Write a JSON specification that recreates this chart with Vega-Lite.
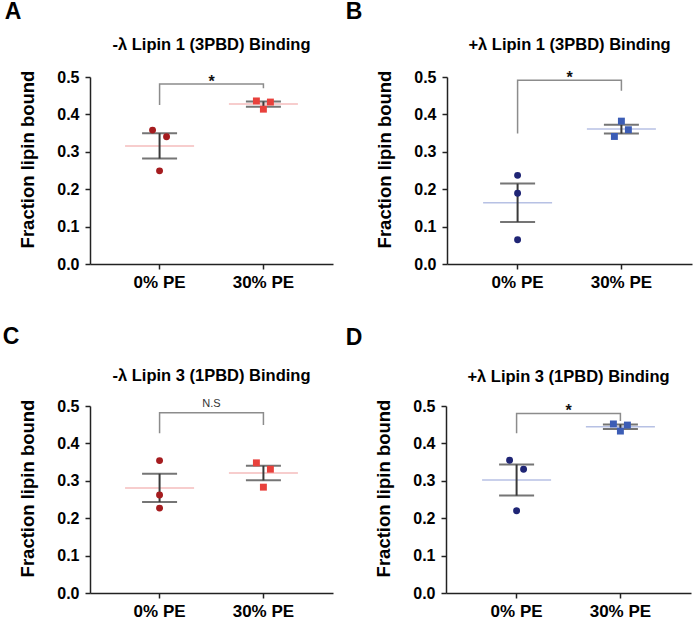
{
  "$schema": "https://vega.github.io/schema/vega-lite/v6.json",
  "padding": {"left": 2, "top": 0, "right": 2, "bottom": 2},
  "background": "white",
  "config": {
    "font": "Liberation Sans",
    "view": {"stroke": null},
    "axis": {"grid": false, "domainColor": "#222222", "domainWidth": 1.5, "tickColor": "#222222", "tickWidth": 1.5, "tickSize": 5, "labelColor": "#000000", "labelFont": "Liberation Sans", "labelFontWeight": "bold", "titleFont": "Liberation Sans", "titleFontWeight": "bold", "titleColor": "#000000"},
    "axisY": {"labelFontSize": 16, "titleFontSize": 18.5, "titlePadding": 19, "labelPadding": 6, "titleY": 82},
    "axisX": {"labelFontSize": 17, "labelAngle": 0, "labelPadding": 5},
    "title": {"font": "Liberation Sans", "color": "#000000"}
  },
  "datasets": {
    "points": [
      {"panel": "A", "group": "0% PE", "value": 0.358, "spread": -1},
      {"panel": "A", "group": "0% PE", "value": 0.340, "spread": 1},
      {"panel": "A", "group": "0% PE", "value": 0.249, "spread": 0},
      {"panel": "A", "group": "30% PE", "value": 0.436, "spread": -1},
      {"panel": "A", "group": "30% PE", "value": 0.433, "spread": 1},
      {"panel": "A", "group": "30% PE", "value": 0.414, "spread": 0},
      {"panel": "B", "group": "0% PE", "value": 0.237, "spread": 0},
      {"panel": "B", "group": "0% PE", "value": 0.189, "spread": 0},
      {"panel": "B", "group": "0% PE", "value": 0.065, "spread": 0},
      {"panel": "B", "group": "30% PE", "value": 0.382, "spread": 0},
      {"panel": "B", "group": "30% PE", "value": 0.359, "spread": 1},
      {"panel": "B", "group": "30% PE", "value": 0.341, "spread": -1},
      {"panel": "C", "group": "0% PE", "value": 0.354, "spread": 0},
      {"panel": "C", "group": "0% PE", "value": 0.262, "spread": 0},
      {"panel": "C", "group": "0% PE", "value": 0.227, "spread": 0},
      {"panel": "C", "group": "30% PE", "value": 0.348, "spread": -1},
      {"panel": "C", "group": "30% PE", "value": 0.331, "spread": 1},
      {"panel": "C", "group": "30% PE", "value": 0.283, "spread": 0},
      {"panel": "D", "group": "0% PE", "value": 0.355, "spread": -1},
      {"panel": "D", "group": "0% PE", "value": 0.331, "spread": 1},
      {"panel": "D", "group": "0% PE", "value": 0.220, "spread": 0},
      {"panel": "D", "group": "30% PE", "value": 0.452, "spread": -1},
      {"panel": "D", "group": "30% PE", "value": 0.449, "spread": 1},
      {"panel": "D", "group": "30% PE", "value": 0.433, "spread": 0}
    ],
    "brackets": [
      {"panel": "A", "group": "0% PE", "value": 0.425, "step": 1},
      {"panel": "A", "group": "0% PE", "value": 0.481, "step": 2},
      {"panel": "A", "group": "30% PE", "value": 0.481, "step": 3},
      {"panel": "A", "group": "30% PE", "value": 0.470, "step": 4},
      {"panel": "B", "group": "0% PE", "value": 0.349, "step": 1},
      {"panel": "B", "group": "0% PE", "value": 0.491, "step": 2},
      {"panel": "B", "group": "30% PE", "value": 0.491, "step": 3},
      {"panel": "B", "group": "30% PE", "value": 0.463, "step": 4},
      {"panel": "C", "group": "0% PE", "value": 0.427, "step": 1},
      {"panel": "C", "group": "0% PE", "value": 0.482, "step": 2},
      {"panel": "C", "group": "30% PE", "value": 0.482, "step": 3},
      {"panel": "C", "group": "30% PE", "value": 0.449, "step": 4},
      {"panel": "D", "group": "0% PE", "value": 0.427, "step": 1},
      {"panel": "D", "group": "0% PE", "value": 0.480, "step": 2},
      {"panel": "D", "group": "30% PE", "value": 0.480, "step": 3},
      {"panel": "D", "group": "30% PE", "value": 0.460, "step": 4}
    ],
    "labels": [
      {"panel": "A", "group": "0% PE", "value": 0.481, "label": "*"},
      {"panel": "B", "group": "0% PE", "value": 0.491, "label": "*"},
      {"panel": "C", "group": "0% PE", "value": 0.482, "label": "N.S"},
      {"panel": "D", "group": "0% PE", "value": 0.480, "label": "*"}
    ]
  },
  "spacing": 36,
  "vconcat": [
    {
      "spacing": 12,
      "hconcat": [
        {
          "title": {"text": "A", "anchor": "start", "fontSize": 23, "fontWeight": "bold", "dx": -14, "offset": -5, "baseline": "alphabetic"},
          "vconcat": [{
            "title": {"text": "-λ Lipin 1 (3PBD) Binding", "fontSize": 16.5, "fontWeight": "bold", "offset": 3, "baseline": "alphabetic", "anchor": "middle"},
            "width": 243, "height": 187,
            "encoding": {
              "x": {"field": "group", "type": "nominal", "title": null, "scale": {"type": "band", "domain": ["0% PE", "30% PE"], "paddingInner": 0, "paddingOuter": 0.17}},
              "y": {"field": "value", "type": "quantitative", "title": "Fraction lipin bound", "scale": {"domain": [0, 0.5]}, "axis": {"format": ".1f", "values": [0, 0.1, 0.2, 0.3, 0.4, 0.5]}}
            },
            "layer": [
              {"data": {"name": "brackets"}, "transform": [{"filter": "datum.panel === 'A'"}], "mark": {"type": "line", "color": "#8c8c8c", "strokeWidth": 1.5}, "encoding": {"order": {"field": "step", "type": "quantitative"}}},
              {"data": {"name": "labels"}, "transform": [{"filter": "datum.panel === 'A'"}], "mark": {"type": "text", "fontSize": 16, "fontWeight": "bold", "baseline": "alphabetic", "dy": 3, "color": "#111111"}, "encoding": {"x": {"field": "group", "type": "nominal", "bandPosition": 1}, "text": {"field": "label"}}},
              {"data": {"name": "points"}, "transform": [{"filter": "datum.panel === 'A'"}, {"aggregate": [{"op": "mean", "field": "value", "as": "value"}], "groupby": ["group"]}], "mark": {"type": "tick", "color": "#f0a0a0", "size": 69, "thickness": 1.5}},
              {"data": {"name": "points"}, "transform": [{"filter": "datum.panel === 'A'"}], "mark": {"type": "errorbar", "extent": "stderr", "color": "#3a3a3a", "thickness": 2, "ticks": {"size": 35}}},
              {"data": {"name": "points"}, "transform": [{"filter": "datum.panel === 'A' && datum.group === '0% PE'"}], "mark": {"type": "circle", "color": "#a51c1f", "size": 48, "opacity": 1}, "encoding": {"xOffset": {"field": "spread", "type": "quantitative", "scale": {"domain": [-1, 1], "range": [44.9, 58.9]}}}},
              {"data": {"name": "points"}, "transform": [{"filter": "datum.panel === 'A' && datum.group === '30% PE'"}], "mark": {"type": "square", "color": "#e8413c", "size": 48, "opacity": 1}, "encoding": {"xOffset": {"field": "spread", "type": "quantitative", "scale": {"domain": [-1, 1], "range": [43.9, 59.9]}}}}
            ]
          }]
        },
        {
          "title": {"text": "B", "anchor": "start", "fontSize": 23, "fontWeight": "bold", "dx": -30, "offset": -5, "baseline": "alphabetic"},
          "vconcat": [{
            "title": {"text": "+λ Lipin 1 (3PBD) Binding", "fontSize": 16.5, "fontWeight": "bold", "offset": 3, "baseline": "alphabetic", "anchor": "middle"},
            "width": 245, "height": 187,
            "encoding": {
              "x": {"field": "group", "type": "nominal", "title": null, "scale": {"type": "band", "domain": ["0% PE", "30% PE"], "paddingInner": 0, "paddingOuter": 0.18}},
              "y": {"field": "value", "type": "quantitative", "title": "Fraction lipin bound", "scale": {"domain": [0, 0.5]}, "axis": {"format": ".1f", "values": [0, 0.1, 0.2, 0.3, 0.4, 0.5]}}
            },
            "layer": [
              {"data": {"name": "brackets"}, "transform": [{"filter": "datum.panel === 'B'"}], "mark": {"type": "line", "color": "#8c8c8c", "strokeWidth": 1.5}, "encoding": {"order": {"field": "step", "type": "quantitative"}}},
              {"data": {"name": "labels"}, "transform": [{"filter": "datum.panel === 'B'"}], "mark": {"type": "text", "fontSize": 16, "fontWeight": "bold", "baseline": "alphabetic", "dy": 3, "color": "#111111"}, "encoding": {"x": {"field": "group", "type": "nominal", "bandPosition": 1}, "text": {"field": "label"}}},
              {"data": {"name": "points"}, "transform": [{"filter": "datum.panel === 'B'"}, {"aggregate": [{"op": "mean", "field": "value", "as": "value"}], "groupby": ["group"]}], "mark": {"type": "tick", "color": "#98a6d9", "size": 69, "thickness": 1.5}},
              {"data": {"name": "points"}, "transform": [{"filter": "datum.panel === 'B'"}], "mark": {"type": "errorbar", "extent": "stderr", "color": "#3a3a3a", "thickness": 2, "ticks": {"size": 35}}},
              {"data": {"name": "points"}, "transform": [{"filter": "datum.panel === 'B' && datum.group === '0% PE'"}], "mark": {"type": "circle", "color": "#1f2575", "size": 48, "opacity": 1}, "encoding": {"xOffset": {"field": "spread", "type": "quantitative", "scale": {"domain": [-1, 1], "range": [44.9, 58.9]}}}},
              {"data": {"name": "points"}, "transform": [{"filter": "datum.panel === 'B' && datum.group === '30% PE'"}], "mark": {"type": "square", "color": "#3c5db5", "size": 48, "opacity": 1}, "encoding": {"xOffset": {"field": "spread", "type": "quantitative", "scale": {"domain": [-1, 1], "range": [45.9, 57.9]}}}}
            ]
          }]
        }
      ]
    },
    {
      "spacing": 12,
      "hconcat": [
        {
          "title": {"text": "C", "anchor": "start", "fontSize": 23, "fontWeight": "bold", "dx": -16, "offset": 1, "baseline": "alphabetic"},
          "vconcat": [{
            "title": {"text": "-λ Lipin 3 (1PBD) Binding", "fontSize": 16.5, "fontWeight": "bold", "offset": 0, "baseline": "alphabetic", "anchor": "middle"},
            "width": 243, "height": 187,
            "encoding": {
              "x": {"field": "group", "type": "nominal", "title": null, "scale": {"type": "band", "domain": ["0% PE", "30% PE"], "paddingInner": 0, "paddingOuter": 0.17}},
              "y": {"field": "value", "type": "quantitative", "title": "Fraction lipin bound", "scale": {"domain": [0, 0.5]}, "axis": {"format": ".1f", "values": [0, 0.1, 0.2, 0.3, 0.4, 0.5]}}
            },
            "layer": [
              {"data": {"name": "brackets"}, "transform": [{"filter": "datum.panel === 'C'"}], "mark": {"type": "line", "color": "#8c8c8c", "strokeWidth": 1.5}, "encoding": {"order": {"field": "step", "type": "quantitative"}}},
              {"data": {"name": "labels"}, "transform": [{"filter": "datum.panel === 'C'"}], "mark": {"type": "text", "fontSize": 11, "fontWeight": "normal", "baseline": "alphabetic", "dy": -6, "color": "#333333"}, "encoding": {"x": {"field": "group", "type": "nominal", "bandPosition": 1}, "text": {"field": "label"}}},
              {"data": {"name": "points"}, "transform": [{"filter": "datum.panel === 'C'"}, {"aggregate": [{"op": "mean", "field": "value", "as": "value"}], "groupby": ["group"]}], "mark": {"type": "tick", "color": "#f0a0a0", "size": 69, "thickness": 1.5}},
              {"data": {"name": "points"}, "transform": [{"filter": "datum.panel === 'C'"}], "mark": {"type": "errorbar", "extent": "stderr", "color": "#3a3a3a", "thickness": 2, "ticks": {"size": 35}}},
              {"data": {"name": "points"}, "transform": [{"filter": "datum.panel === 'C' && datum.group === '0% PE'"}], "mark": {"type": "circle", "color": "#a51c1f", "size": 48, "opacity": 1}, "encoding": {"xOffset": {"field": "spread", "type": "quantitative", "scale": {"domain": [-1, 1], "range": [44.9, 58.9]}}}},
              {"data": {"name": "points"}, "transform": [{"filter": "datum.panel === 'C' && datum.group === '30% PE'"}], "mark": {"type": "square", "color": "#e8413c", "size": 48, "opacity": 1}, "encoding": {"xOffset": {"field": "spread", "type": "quantitative", "scale": {"domain": [-1, 1], "range": [45.9, 57.9]}}}}
            ]
          }]
        },
        {
          "title": {"text": "D", "anchor": "start", "fontSize": 23, "fontWeight": "bold", "dx": -29, "offset": 1, "baseline": "alphabetic"},
          "vconcat": [{
            "title": {"text": "+λ Lipin 3 (1PBD) Binding", "fontSize": 16.5, "fontWeight": "bold", "offset": 0, "baseline": "alphabetic", "anchor": "middle"},
            "width": 245, "height": 187,
            "encoding": {
              "x": {"field": "group", "type": "nominal", "title": null, "scale": {"type": "band", "domain": ["0% PE", "30% PE"], "paddingInner": 0, "paddingOuter": 0.18}},
              "y": {"field": "value", "type": "quantitative", "title": "Fraction lipin bound", "scale": {"domain": [0, 0.5]}, "axis": {"format": ".1f", "values": [0, 0.1, 0.2, 0.3, 0.4, 0.5]}}
            },
            "layer": [
              {"data": {"name": "brackets"}, "transform": [{"filter": "datum.panel === 'D'"}], "mark": {"type": "line", "color": "#8c8c8c", "strokeWidth": 1.5}, "encoding": {"order": {"field": "step", "type": "quantitative"}}},
              {"data": {"name": "labels"}, "transform": [{"filter": "datum.panel === 'D'"}], "mark": {"type": "text", "fontSize": 16, "fontWeight": "bold", "baseline": "alphabetic", "dy": 3, "color": "#111111"}, "encoding": {"x": {"field": "group", "type": "nominal", "bandPosition": 1}, "text": {"field": "label"}}},
              {"data": {"name": "points"}, "transform": [{"filter": "datum.panel === 'D'"}, {"aggregate": [{"op": "mean", "field": "value", "as": "value"}], "groupby": ["group"]}], "mark": {"type": "tick", "color": "#98a6d9", "size": 69, "thickness": 1.5}},
              {"data": {"name": "points"}, "transform": [{"filter": "datum.panel === 'D'"}], "mark": {"type": "errorbar", "extent": "stderr", "color": "#3a3a3a", "thickness": 2, "ticks": {"size": 35}}},
              {"data": {"name": "points"}, "transform": [{"filter": "datum.panel === 'D' && datum.group === '0% PE'"}], "mark": {"type": "circle", "color": "#1f2575", "size": 48, "opacity": 1}, "encoding": {"xOffset": {"field": "spread", "type": "quantitative", "scale": {"domain": [-1, 1], "range": [44.9, 58.9]}}}},
              {"data": {"name": "points"}, "transform": [{"filter": "datum.panel === 'D' && datum.group === '30% PE'"}], "mark": {"type": "square", "color": "#3c5db5", "size": 48, "opacity": 1}, "encoding": {"xOffset": {"field": "spread", "type": "quantitative", "scale": {"domain": [-1, 1], "range": [42.9, 60.9]}}}}
            ]
          }]
        }
      ]
    }
  ]
}
